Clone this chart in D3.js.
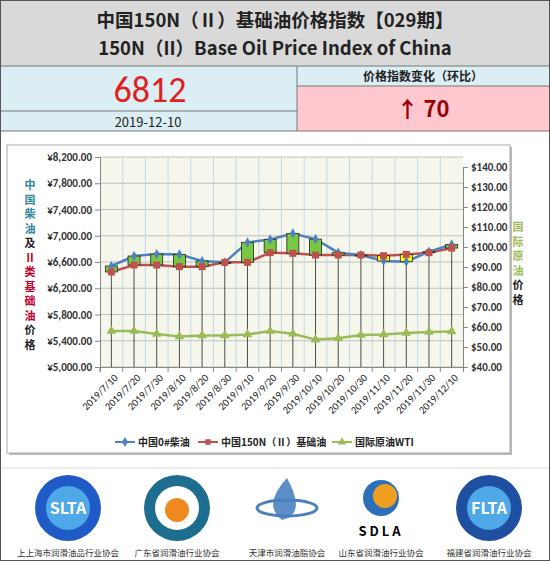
<!DOCTYPE html>
<html><head><meta charset="utf-8">
<script src="https://cdn.jsdelivr.net/npm/d3@7"></script>
<style>body{margin:0;background:#fff}svg{display:block;font-family:"Noto Sans CJK SC","Noto Sans",sans-serif}</style>
</head><body>
<script>
// data
const dates = ["2019/7/10","2019/7/20","2019/7/30","2019/8/10","2019/8/20","2019/8/30","2019/9/10","2019/9/20","2019/9/30","2019/10/10","2019/10/20","2019/10/30","2019/11/10","2019/11/20","2019/11/30","2019/12/10"];
const diesel = [6539,6691,6721,6716,6615,6595,6899,6944,7035,6949,6742,6706,6615,6605,6757,6868];
const baseOil = [6448,6554,6554,6529,6529,6595,6595,6742,6732,6706,6706,6706,6696,6716,6742,6812];
const wti = [58.0,58.0,56.5,55.3,55.8,55.8,56.3,58.0,56.6,53.7,54.4,56.0,56.3,57.0,57.5,57.8];
const leftTicks = [5000,5400,5800,6200,6600,7000,7400,7800,8200];
const rightTicks = [40,50,60,70,80,90,100,110,120,130,140];
const assoc = ["上上海市润滑油品行业协会","广东省润滑油行业协会","天津市润滑油脂协会","山东省润滑油行业协会","福建省润滑油行业协会"];

const W = 550, H = 561;
const svg = d3.select("body").append("svg").attr("width", W).attr("height", H);

// header
svg.append("rect").attr("width", W).attr("height", 66).attr("fill", "#d9d9d9");
svg.append("text").attr("x", 275).attr("y", 27).attr("text-anchor", "middle")
  .attr("font-size", 18.5).attr("font-weight", "bold").attr("fill", "#222").text("中国150N（Ⅱ）基础油价格指数【029期】");
svg.append("text").attr("x", 275).attr("y", 55).attr("text-anchor", "middle")
  .attr("font-size", 18.5).attr("font-weight", "bold").attr("fill", "#222").text("150N（II）Base Oil Price Index of China");

svg.append("rect").attr("x", 0).attr("y", 66).attr("width", 297).attr("height", 65).attr("fill", "#daeef3");
svg.append("line").attr("x1", 0).attr("x2", 297).attr("y1", 111).attr("y2", 111).attr("stroke", "#777");
svg.append("rect").attr("x", 297).attr("y", 66).attr("width", 253).attr("height", 20).attr("fill", "#daeef3");
svg.append("rect").attr("x", 297).attr("y", 86).attr("width", 253).attr("height", 45).attr("fill", "#ffc7ce");
svg.append("line").attr("x1", 297).attr("x2", 297).attr("y1", 66).attr("y2", 131).attr("stroke", "#777");
svg.append("line").attr("x1", 297).attr("x2", 550).attr("y1", 86).attr("y2", 86).attr("stroke", "#777");
svg.append("line").attr("x1", 0).attr("x2", 550).attr("y1", 66).attr("y2", 66).attr("stroke", "#777");
svg.append("line").attr("x1", 0).attr("x2", 550).attr("y1", 131).attr("y2", 131).attr("stroke", "#777");
svg.append("text").attr("x", 150).attr("y", 102).attr("text-anchor", "middle").attr("font-size", 36)
  .attr("font-family", "Calibri,Carlito,'Open Sans',sans-serif").attr("fill", "#e02020").text("6812");
svg.append("text").attr("x", 148).attr("y", 127).attr("text-anchor", "middle").attr("font-size", 13).attr("fill", "#222").text("2019-12-10");
svg.append("text").attr("x", 423).attr("y", 81).attr("text-anchor", "middle").attr("font-size", 12).attr("font-weight", "bold").attr("fill", "#222").text("价格指数变化（环比）");
svg.append("text").attr("x", 423).attr("y", 117).attr("text-anchor", "middle").attr("font-size", 22).attr("font-weight", "bold").attr("fill", "#9c0006").text("↑ 70");

// chart panel
svg.append("rect").attr("x", 9).attr("y", 147).attr("width", 503).attr("height", 308).attr("fill", "#bbb");
svg.append("rect").attr("x", 7).attr("y", 145).attr("width", 503).attr("height", 308).attr("fill", "#fff").attr("stroke", "#aaa");

const x0 = 100, x1 = 463, yTop = 157, yBot = 367;
const x = d3.scaleBand().domain(dates).range([x0, x1]);
const yL = d3.scaleLinear().domain([5000, 8200]).range([yBot, yTop]);
const yR = d3.scaleLinear().domain([40, 140]).range([yBot, 167]);
const cx = d => x(d) + x.bandwidth() / 2;

svg.append("rect").attr("x", x0).attr("y", yTop).attr("width", x1 - x0).attr("height", yBot - yTop).attr("fill", "#f6f7ec");
svg.append("g").selectAll("line").data(leftTicks).join("line")
  .attr("x1", x0).attr("x2", x1).attr("y1", yL).attr("y2", yL).attr("stroke", "#bfbfbf");
svg.append("g").selectAll("line").data(dates.slice(1)).join("line")
  .attr("x1", d => x(d)).attr("x2", d => x(d)).attr("y1", yTop).attr("y2", yBot).attr("stroke", "#c5d7e6");

const axL = svg.append("g").attr("transform", `translate(${x0},0)`)
  .call(d3.axisLeft(yL).tickValues(leftTicks).tickSize(5).tickFormat(d => "¥" + d3.format(",.2f")(d)));
const axR = svg.append("g").attr("transform", `translate(${x1},0)`)
  .call(d3.axisRight(yR).tickValues(rightTicks).tickSize(5).tickFormat(d => "$" + d3.format(".2f")(d)));
const axB = svg.append("g").attr("transform", `translate(0,${yBot})`)
  .call(d3.axisBottom(x).tickSize(5));
axB.selectAll(".tick line").attr("transform", `translate(${-x.bandwidth() / 2},0)`);
axB.selectAll("text").attr("transform", "rotate(-45)").attr("text-anchor", "end").attr("dx", "-0.3em").attr("dy", "0.5em");
[axL, axR, axB].forEach(a => {
  a.selectAll("path,line").attr("stroke", "#888");
  a.selectAll("text").attr("font-size", 11).attr("fill", "#222").attr("font-family", "Calibri,Carlito,'Open Sans',sans-serif");
});
axL.selectAll("text").attr("font-weight", "bold").attr("fill", "#333");
axR.selectAll("text").attr("font-weight", "bold").attr("fill", "#333");
axB.selectAll("text").attr("font-size", 10.5);

// drop lines
svg.append("g").selectAll("line").data(dates).join("line")
  .attr("x1", cx).attr("x2", cx)
  .attr("y1", (d, i) => yL(Math.max(diesel[i], baseOil[i]))).attr("y2", yBot)
  .attr("stroke", "#222").attr("stroke-width", 0.8);

// lines
const line = (arr, y) => d3.line().x((d, i) => cx(dates[i])).y(d => y(d))(arr);
svg.append("path").attr("d", line(wti, yR)).attr("fill", "none").attr("stroke", "#9bbb59").attr("stroke-width", 2.5);
svg.append("path").attr("d", line(baseOil, yL)).attr("fill", "none").attr("stroke", "#c0504d").attr("stroke-width", 2.5);
svg.append("path").attr("d", line(diesel, yL)).attr("fill", "none").attr("stroke", "#4f81bd").attr("stroke-width", 2.5);

// up/down bars
svg.append("g").selectAll("rect").data(dates).join("rect")
  .attr("x", d => cx(d) - 6).attr("width", 12)
  .attr("y", (d, i) => yL(Math.max(diesel[i], baseOil[i])))
  .attr("height", (d, i) => Math.max(1, Math.abs(yL(diesel[i]) - yL(baseOil[i]))))
  .attr("fill", (d, i) => diesel[i] >= baseOil[i] ? "#77c843" : "#ffff00").attr("stroke", "#222").attr("stroke-width", 0.8);

// markers
svg.append("g").selectAll("path").data(diesel).join("path")
  .attr("d", d3.symbol(d3.symbolDiamond, 30)).attr("transform", (d, i) => `translate(${cx(dates[i])},${yL(d)})`).attr("fill", "#4f81bd");
svg.append("g").selectAll("rect").data(baseOil).join("rect")
  .attr("x", (d, i) => cx(dates[i]) - 3.5).attr("y", d => yL(d) - 3.5).attr("width", 7).attr("height", 7).attr("fill", "#c0504d");
svg.append("g").selectAll("path").data(wti).join("path")
  .attr("d", d3.symbol(d3.symbolTriangle, 40)).attr("transform", (d, i) => `translate(${cx(dates[i])},${yR(d)})`).attr("fill", "#9bbb59");

// vertical axis titles
const vt = (chars, xx, y0, colors) => chars.split("").forEach((c, i) =>
  svg.append("text").attr("x", xx).attr("y", y0 + i * 14.5).attr("text-anchor", "middle").attr("font-size", 11)
    .attr("font-weight", "bold").attr("fill", colors[i]).text(c));
vt("中国柴油及Ⅱ类基础油价格", 30, 189, ["#31859c","#31859c","#31859c","#31859c","#222","#c0002a","#c0002a","#c0002a","#c0002a","#c0002a","#222","#222"]);
vt("国际原油价格", 518, 231, ["#9bbb59","#9bbb59","#9bbb59","#9bbb59","#222","#222"]);

// legend
const leg = [["中国0#柴油", "#4f81bd", "d"], ["中国150N（Ⅱ）基础油", "#c0504d", "s"], ["国际原油WTI", "#9bbb59", "t"]];
const lx = [115, 198, 332];
leg.forEach((l, i) => {
  const g = svg.append("g").attr("transform", `translate(${lx[i]},442)`);
  g.append("line").attr("x1", 0).attr("x2", 20).attr("stroke", l[1]).attr("stroke-width", 2);
  const sym = l[2] === "d" ? d3.symbolDiamond : l[2] === "s" ? d3.symbolSquare : d3.symbolTriangle;
  g.append("path").attr("d", d3.symbol(sym, 30)).attr("transform", "translate(10,0)").attr("fill", l[1]);
  g.append("text").attr("x", 23).attr("y", 4).attr("font-size", 10).attr("font-weight", "bold").attr("fill", "#222").text(l[0]);
});

// footer logos
svg.append("line").attr("x1", 0).attr("x2", 550).attr("y1", 468).attr("y2", 468).attr("stroke", "#ddd");
const logoX = [68, 177, 287, 381, 489];
const logoFill = ["#1e5bc6", "#1d6d8f", "#5b8fc7", "#f0a020", "#1e4fa0"];
const logoTxt = ["SLTA", "GDLIA", "", "SDLA", "FLTA"];
assoc.forEach((t, i) => {
  const g = svg.append("g");
  if (i === 2) {
    g.append("path").attr("d", `M${logoX[i]},478 Q${logoX[i] - 25},505 ${logoX[i] - 5},520 Q${logoX[i] + 20},515 ${logoX[i]},478Z`).attr("fill", logoFill[i]);
    g.append("ellipse").attr("cx", logoX[i]).attr("cy", 508).attr("rx", 30).attr("ry", 8).attr("fill", "none").attr("stroke", "#4a7fc0").attr("stroke-width", 3);
  } else if (i === 3) {
    g.append("circle").attr("cx", logoX[i]).attr("cy", 498).attr("r", 18).attr("fill", "#2a6fb8");
    g.append("circle").attr("cx", logoX[i] + 4).attr("cy", 496).attr("r", 12).attr("fill", logoFill[i]);
    g.append("text").attr("x", logoX[i]).attr("y", 536).attr("text-anchor", "middle").attr("font-size", 13).attr("font-weight", "bold").attr("letter-spacing", 3).text("SDLA");
  } else {
    g.append("circle").attr("cx", logoX[i]).attr("cy", 508).attr("r", 33).attr("fill", logoFill[i]);
    g.append("circle").attr("cx", logoX[i]).attr("cy", 508).attr("r", 22).attr("fill", i === 1 ? "#fff" : "#4fa8e8");
    if (i === 1) g.append("circle").attr("cx", logoX[i]).attr("cy", 510).attr("r", 12).attr("fill", "#f08a20");
    else g.append("text").attr("x", logoX[i]).attr("y", 514).attr("text-anchor", "middle").attr("font-size", 16).attr("font-weight", "bold").attr("fill", "#fff").text(logoTxt[i]);
  }
  g.append("text").attr("x", logoX[i]).attr("y", 556).attr("text-anchor", "middle").attr("font-size", 8.5).attr("fill", "#333").text(t);
});
svg.append("rect").attr("x", 0.5).attr("y", 0.5).attr("width", 549).attr("height", 560).attr("fill", "none").attr("stroke", "#555");
</script>
</body></html>
